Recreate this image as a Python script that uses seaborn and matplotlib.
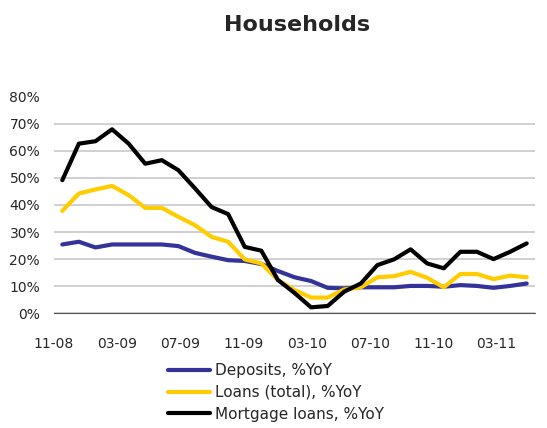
import numpy as np
import pandas as pd
import seaborn as sns
import matplotlib.pyplot as plt
import matplotlib.transforms as mtrans

# monthly data, 11-08 .. 03-11
months = pd.date_range("2008-11-01", "2011-03-01", freq="MS").strftime("%m-%y").tolist()

deposits = [25.4, 26.4, 24.3, 25.4, 25.4, 25.4, 25.4, 24.8, 22.3, 20.9, 19.6, 19.3, 18.2, 15.6, 13.3,
            11.9, 9.4, 9.2, 9.6, 9.6, 9.6, 10.1, 10.1, 9.8, 10.4, 10.1, 9.4, 10.1, 11.0]
loans = [37.8, 44.2, 45.7, 47.0, 43.6, 38.9, 38.9, 35.6, 32.5, 28.2, 26.4, 19.9, 18.4, 12.3, 8.6,
         5.8, 5.8, 8.8, 9.6, 13.3, 13.7, 15.3, 13.1, 9.6, 14.5, 14.5, 12.6, 13.9, 13.3]
mortgage = [49.1, 62.6, 63.5, 67.9, 62.6, 55.2, 56.5, 52.8, 46.1, 39.2, 36.6, 24.5, 23.1, 12.3, 7.5,
            2.2, 2.7, 8.0, 11.0, 17.8, 19.9, 23.6, 18.4, 16.6, 22.7, 22.7, 20.0, 22.7, 25.8]

series_names = ["Deposits, %YoY", "Loans (total), %YoY", "Mortgage loans, %YoY"]
colors = ["#333399", "#FFCC00", "#000000"]

tick_labels = ["11-08", "03-09", "07-09", "11-09", "03-10", "07-10", "11-10", "03-11"]
tick_pos = [-0.5, 3.31, 7.12, 10.93, 14.74, 18.55, 22.36, 26.17]

df = pd.DataFrame({
    "idx": np.tile(np.arange(len(months)), 3),
    "value": deposits + loans + mortgage,
    "series": np.repeat(series_names, len(months)),
})

sns.set_style("white")
plt.rcParams["font.family"] = ["DejaVu Sans"]

fig = plt.figure(figsize=(5.47, 4.28), dpi=100)
ax = fig.add_axes([54 / 547, 1 - 313.3 / 428, (535 - 54) / 547, (313.3 - 96.5) / 428])

sns.lineplot(data=df, x="idx", y="value", hue="series", palette=colors,
             hue_order=series_names, linewidth=3, ax=ax, legend=False)

ax.set_xlim(-0.5, len(months) - 0.5)
ax.set_ylim(0, 80)
ax.set_yticks(range(0, 81, 10))
ax.set_yticklabels([f"{v}%" for v in range(0, 81, 10)], fontsize=10)
ax.set_xticks(tick_pos)
ax.set_xticklabels(tick_labels, fontsize=10)
off = mtrans.ScaledTranslation(6 / 100, 0, fig.dpi_scale_trans)
for lab in ax.get_xticklabels():
    lab.set_transform(lab.get_transform() + off)

ax.grid(axis="y", color="#c8c8c8", linewidth=1.2)
ax.set_axisbelow(True)
for s in ["top", "right", "left"]:
    ax.spines[s].set_visible(False)
ax.spines["bottom"].set_color("#555555")
ax.tick_params(axis="x", length=4, width=1, color="#555555", pad=13, direction="out")
ax.tick_params(axis="y", length=0, pad=10)
ax.set_xlabel("")
ax.set_ylabel("")

fig.text(297 / 547, 1 - 25 / 428, "Households", ha="center", va="center",
         fontsize=16, fontweight="bold")

handles = [plt.Line2D([], [], color=c, linewidth=3) for c in colors]
fig.legend(handles, series_names, loc="upper left", bbox_to_anchor=(168 / 547, 1 - 363 / 428),
           frameon=False, fontsize=11, borderpad=0, borderaxespad=0,
           handlelength=2.75, handletextpad=0.35, labelspacing=0.45)

fig.savefig("out.png", dpi=100)
